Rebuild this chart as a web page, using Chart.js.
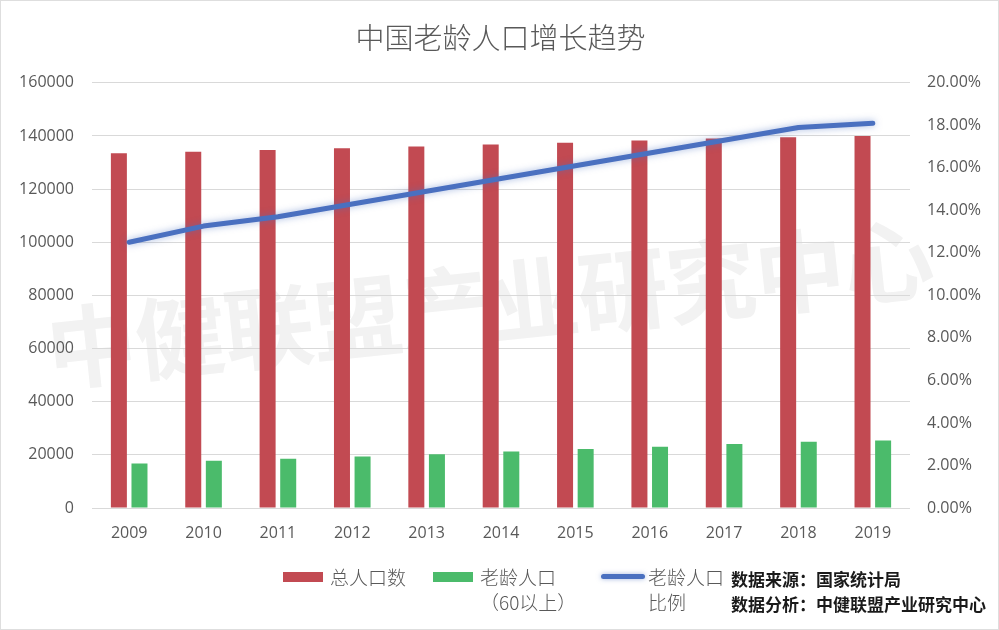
<!DOCTYPE html>
<html>
<head>
<meta charset="utf-8">
<script src="https://cdn.jsdelivr.net/npm/chart.js@4"></script>
<style>
    body { margin: 0; background: #fff; }
    #wrap { position: relative; width: 999px; height: 630px; box-sizing: border-box; border: 1px solid #dedede; overflow: hidden; }
    #watermark {
        position: absolute; left: 488px; top: 298px;
        transform: translate(-50%, -50%) rotate(-6deg);
        font-family: "Noto Sans CJK SC", sans-serif; font-weight: 700;
        font-size: 90px; color: #f2f2f2; white-space: nowrap; letter-spacing: -1px;
    }
    canvas { position: absolute; left: 0; top: 0; }
    .lg { position: absolute; font-family: "Noto Sans CJK SC", sans-serif; font-weight: 300; font-size: 19px; color: #595959; line-height: 25px; white-space: nowrap; }
    .sw { position: absolute; }
    .src { position: absolute; left: 730px; font-family: "Noto Sans CJK SC", sans-serif; font-weight: 700; font-size: 17px; color: #1a1a1a; white-space: nowrap; line-height: 20px; }
</style>
</head>
<body>
<div id="wrap">
    <div id="watermark">中健联盟产业研究中心</div>
    <canvas id="chart" width="999" height="630"></canvas>
    <div id="legend"></div>
    <div class="src" style="top:568px">数据来源：国家统计局</div>
    <div class="src" style="top:593px">数据分析：中健联盟产业研究中心</div>
</div>
<script>
// Data (万人)
const years = ['2009', '2010', '2011', '2012', '2013', '2014', '2015', '2016', '2017', '2018', '2019'];
const totalPop = [133450, 134091, 134735, 135404, 136072, 136782, 137462, 138271, 139008, 139538, 140005];
const elderPop = [16714, 17765, 18499, 19390, 20243, 21242, 22200, 23086, 24090, 24949, 25388];
const elderRatio = [0.125, 0.1326, 0.137, 0.143, 0.149, 0.155, 0.161, 0.167, 0.173, 0.179, 0.181];

const seriesNames = [['总人口数'], ['老龄人口', '（60以上）'], ['老龄人口', '比例']];
const colors = ['#c24a52', '#4bbb6b', '#4a70c0'];

const tickFont = { family: '"Open Sans", sans-serif', size: 16 };
const gray = '#595959';

// soft glow under the ratio line
const glowPlugin = {
    id: 'glow',
    beforeDatasetDraw(chart, args) {
        if (chart.data.datasets[args.index].type !== 'line') return;
        chart.ctx.save();
        chart.ctx.shadowColor = 'rgba(74, 112, 192, 0.5)';
        chart.ctx.shadowBlur = 7;
    },
    afterDatasetDraw(chart, args) {
        if (chart.data.datasets[args.index].type !== 'line') return;
        chart.ctx.restore();
    }
};

const ctx = document.getElementById('chart').getContext('2d');
const chart = new Chart(ctx, {
    data: {
        labels: years,
        datasets: [
            {
                type: 'bar', label: seriesNames[0], data: totalPop,
                backgroundColor: colors[0], yAxisID: 'y', order: 1,
                categoryPercentage: 0.554, barPercentage: 0.777
            },
            {
                type: 'bar', label: seriesNames[1], data: elderPop,
                backgroundColor: colors[1], yAxisID: 'y', order: 1,
                categoryPercentage: 0.554, barPercentage: 0.777
            },
            {
                type: 'line', label: seriesNames[2], data: elderRatio,
                borderColor: colors[2], borderWidth: 5, yAxisID: 'y1', order: 0,
                pointRadius: 0, tension: 0, borderCapStyle: 'round', borderJoinStyle: 'round'
            }
        ]
    },
    options: {
        responsive: false,
        animation: false,
        layout: { padding: 0 },
        plugins: {
            legend: { display: false },
            tooltip: { enabled: false },
            title: {
                display: true,
                text: '中国老龄人口增长趋势',
                color: gray,
                font: { family: '"Noto Sans CJK SC", sans-serif', size: 29, weight: '300', lineHeight: 1.2 },
                padding: { top: 20, bottom: 27 }
            }
        },
        scales: {
            x: {
                grid: { display: false, drawTicks: false },
                border: { display: false },
                ticks: { color: gray, font: tickFont, padding: 16 },
                afterFit: (s) => { s.height = 123; }
            },
            y: {
                position: 'left',
                min: 0, max: 160000,
                grid: { color: '#d9d9d9', drawTicks: false },
                border: { display: false },
                ticks: { stepSize: 20000, color: gray, font: tickFont, padding: 18, callback: (v) => String(v) },
                afterFit: (s) => { s.width = 91; }
            },
            y1: {
                position: 'right',
                min: 0, max: 0.2,
                grid: { display: false, drawTicks: false },
                border: { display: false },
                ticks: {
                    stepSize: 0.02, color: gray, font: tickFont, padding: 17,
                    callback: (v) => (v * 100).toFixed(2) + '%'
                },
                afterFit: (s) => { s.width = 90; }
            }
        }
    },
    plugins: [glowPlugin]
});

// HTML legend built from the datasets
const legendEl = document.getElementById('legend');
const legendX = [282, 432, 600];
chart.data.datasets.forEach((ds, i) => {
    const sw = document.createElement('div');
    sw.className = 'sw';
    if (ds.type === 'line') {
        Object.assign(sw.style, {
            left: legendX[i] + 'px', top: '573px', width: '44px', height: '5px',
            background: ds.borderColor, borderRadius: '3px', boxShadow: '0 0 5px rgba(74,112,192,0.5)'
        });
    } else {
        Object.assign(sw.style, {
            left: legendX[i] + 'px', top: '571px', width: '40px', height: '10px', background: ds.backgroundColor
        });
    }
    legendEl.appendChild(sw);
    const txt = document.createElement('div');
    txt.className = 'lg';
    txt.style.left = (legendX[i] + 47) + 'px';
    txt.style.top = '563px';
    txt.innerHTML = ds.label.join('<br>');
    legendEl.appendChild(txt);
});
</script>
</body>
</html>
